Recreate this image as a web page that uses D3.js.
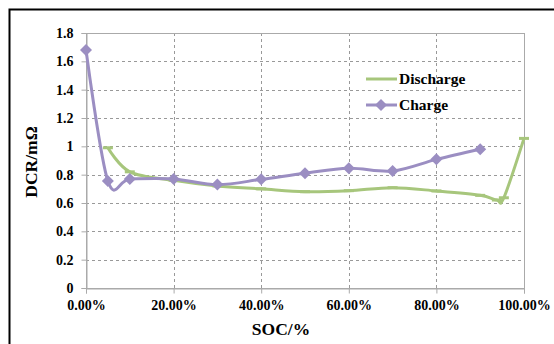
<!DOCTYPE html>
<html><head><meta charset="utf-8">
<script src="https://cdn.jsdelivr.net/npm/d3@7"></script>
<style>body{margin:0;background:#fff}svg{display:block}</style>
</head><body>
<svg id="c" width="554" height="344"></svg>
<script>
const dischargeSOC = [0.05,0.10,0.20,0.30,0.40,0.50,0.60,0.70,0.80,0.90,0.938,0.954,1.00];
const dischargeDCR = [0.99,0.82,0.76,0.72,0.70,0.68,0.687,0.708,0.685,0.654,0.621,0.637,1.056];
const chargeSOC = [0.00,0.05,0.10,0.20,0.30,0.40,0.50,0.60,0.70,0.80,0.90];
const chargeDCR = [1.68,0.755,0.77,0.77,0.73,0.767,0.81,0.845,0.826,0.908,0.98];
const xTicks = [0,0.2,0.4,0.6,0.8,1.0];
const yTicks = [0,0.2,0.4,0.6,0.8,1,1.2,1.4,1.6,1.8];
const seriesNames = ["Discharge","Charge"];

const green = "#a7c67c", purple = "#9b8ec2";
const svg = d3.select("#c");
const font = "'Liberation Serif','Times New Roman',serif";
const L=86,R=524,T=33,B=288;
const x = d3.scaleLinear().domain([0,1]).range([L,R]);
const y = d3.scaleLinear().domain([0,1.8]).range([B,T]);

svg.append("rect").attr("x",9.5).attr("y",9.5).attr("width",560).attr("height",360)
  .attr("fill","#fff").attr("stroke","#000").attr("stroke-width",2);

const g = svg.append("g");
g.selectAll(".hg").data(yTicks.filter(d=>d>0 && d<1.8)).join("line")
  .attr("x1",L).attr("x2",R).attr("y1",d=>Math.round(y(d))+0.5).attr("y2",d=>Math.round(y(d))+0.5)
  .attr("stroke","#999").attr("stroke-dasharray","3,3");
g.selectAll(".vg").data(xTicks.filter(d=>d>0 && d<1)).join("line")
  .attr("y1",T).attr("y2",B).attr("x1",d=>Math.round(x(d))+0.5).attr("x2",d=>Math.round(x(d))+0.5)
  .attr("stroke","#999").attr("stroke-dasharray","3,3");
g.append("rect").attr("x",L+0.5).attr("y",T+0.5).attr("width",R-L).attr("height",B-T)
  .attr("fill","none").attr("stroke","#aaa");

const yAxis = d3.axisLeft(y).tickValues(yTicks).tickSize(5).tickPadding(8).tickFormat(d=>String(+d.toFixed(1)));
const ya = svg.append("g").attr("transform",`translate(${L+0.5},0)`).call(yAxis);
const xAxis = d3.axisBottom(x).tickValues(xTicks).tickSize(5).tickPadding(7).tickFormat(d=>(d*100).toFixed(2)+"%");
const xa = svg.append("g").attr("transform",`translate(0,${B+0.5})`).call(xAxis);
[ya,xa].forEach(a=>{
  a.select(".domain").attr("stroke","#aaa");
  a.selectAll(".tick line").attr("stroke","#aaa");
  a.selectAll("text").attr("font-family",font).attr("font-weight","bold").attr("font-size",14).attr("fill","#000");
});

const line = d3.line().x(d=>x(d[0])).y(d=>y(d[1])).curve(d3.curveCardinal.tension(0));
const dd = dischargeSOC.map((s,i)=>[s,dischargeDCR[i]]);
const cd = chargeSOC.map((s,i)=>[s,chargeDCR[i]]);

svg.append("path").datum(dd).attr("d",line).attr("fill","none").attr("stroke",green).attr("stroke-width",3);
svg.selectAll(".dm").data(dd).join("line")
  .attr("x1",d=>x(d[0])-5).attr("x2",d=>x(d[0])+5).attr("y1",d=>y(d[1])).attr("y2",d=>y(d[1]))
  .attr("stroke",green).attr("stroke-width",3);

svg.append("path").datum(cd).attr("d",line).attr("fill","none").attr("stroke",purple).attr("stroke-width",3);
const diamond = "M0,-6L6,0L0,6L-6,0Z";
svg.selectAll(".cm").data(cd).join("path")
  .attr("d",diamond).attr("transform",d=>`translate(${x(d[0])},${y(d[1])})`).attr("fill",purple);

const lg = svg.append("g");
lg.append("line").attr("x1",366).attr("x2",397).attr("y1",79).attr("y2",79).attr("stroke",green).attr("stroke-width",3);
lg.append("text").attr("x",399).attr("y",84).text(seriesNames[0]);
lg.append("line").attr("x1",366).attr("x2",397).attr("y1",105).attr("y2",105).attr("stroke",purple).attr("stroke-width",3);
lg.append("path").attr("d",diamond).attr("transform","translate(381,105)").attr("fill",purple);
lg.append("text").attr("x",399).attr("y",110).text(seriesNames[1]);
lg.selectAll("text").attr("font-family",font).attr("font-weight","bold").attr("font-size",15.5);

svg.append("text").attr("x",281).attr("y",335).attr("text-anchor","middle")
  .attr("font-family",font).attr("font-weight","bold").attr("font-size",17.5).text("SOC/%");
svg.append("text").attr("transform",`translate(37,162) rotate(-90)`).attr("text-anchor","middle")
  .attr("font-family",font).attr("font-weight","bold").attr("font-size",17.5).text("DCR/mΩ");
</script>
</body></html>
